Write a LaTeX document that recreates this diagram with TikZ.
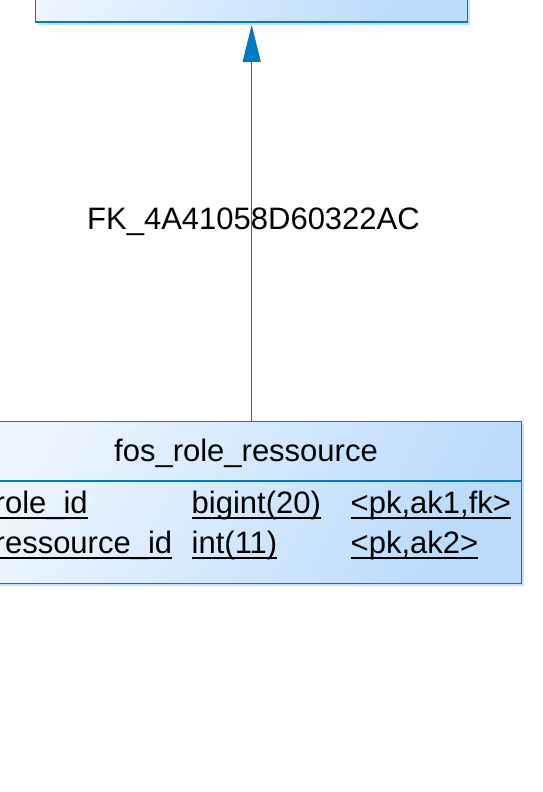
\documentclass[tikz,border=0pt]{standalone}
\usepackage{fontspec}
\setmainfont{Liberation Sans}
\usetikzlibrary{arrows.meta,shadows}

\definecolor{tabborde}{RGB}{0,122,196}
\definecolor{tabclaro}{RGB}{236,245,255}
\definecolor{taboscuro}{RGB}{186,219,252}
\definecolor{tabsombra}{RGB}{196,224,250}
\definecolor{enlace}{RGB}{24,112,176}

% subrayado de las columnas
\newcommand{\subcol}[1]{\setbox0\hbox{#1}\rlap{\rule[-5.6pt]{\wd0}{1.8pt}}\box0}

\tikzset{
  tabla/.style={rectangle, draw=tabborde, line width=1.4pt,
    top color=tabclaro, bottom color=taboscuro, shading angle=62,
    drop shadow={shadow xshift=2.6pt, shadow yshift=-2.6pt, fill=tabsombra, opacity=1}},
  texto/.style={inner sep=0pt}
}

\begin{document}
\begin{tikzpicture}[x=1pt, y=-1pt, font=\fontsize{31}{36}\selectfont]
            \useasboundingbox (0,0) rectangle (543,792);
            \clip (0,0) rectangle (543,792);

            % Tablas
            \node[tabla, minimum width=432.4pt, minimum height=122pt] (reftab) at (251.5,-38.85) {};
            \node[tabla, minimum width=551.4pt, minimum height=161.6pt] (roleres) at (246,502.5) {};
            \draw[tabborde, line width=1.2pt] (roleres.west |- 0,481) -- (roleres.east |- 0,481);

            % Titulo y columnas
            \node[texto, anchor=base] (rrtitulo) at (246,461.5) {fos\_role\_ressource};
            \foreach \nom/\tipo/\clave/\yy [count=\i] in {role\_id/bigint(20)/{<pk,ak1,fk>}/513.5,
                                                      ressource\_id/int(11)/{<pk,ak2>}/553.5} {
                \node[texto, anchor=base west] (nom\i) at (-5.5,\yy) {\subcol{\nom}};
                \node[texto, anchor=base west] (tipo\i) at (191.5,\yy) {\subcol{\tipo}};
                \node[texto, anchor=base west] (clave\i) at (350.5,\yy) {\subcol{\clave}};
            }

            % Referencia entre tablas
            \coordinate (fkx) at (251.7,0);
            \draw[enlace, line width=1pt, shorten >=2pt,
                  -{Triangle[length=37pt, width=18pt, fill=tabborde]}]
                (fkx |- roleres.north) -- (fkx |- reftab.south);
            \node[texto, anchor=base] (fklabel) at (253.5,229.3) {FK\_4A41058D60322AC};
\end{tikzpicture}
\end{document}
